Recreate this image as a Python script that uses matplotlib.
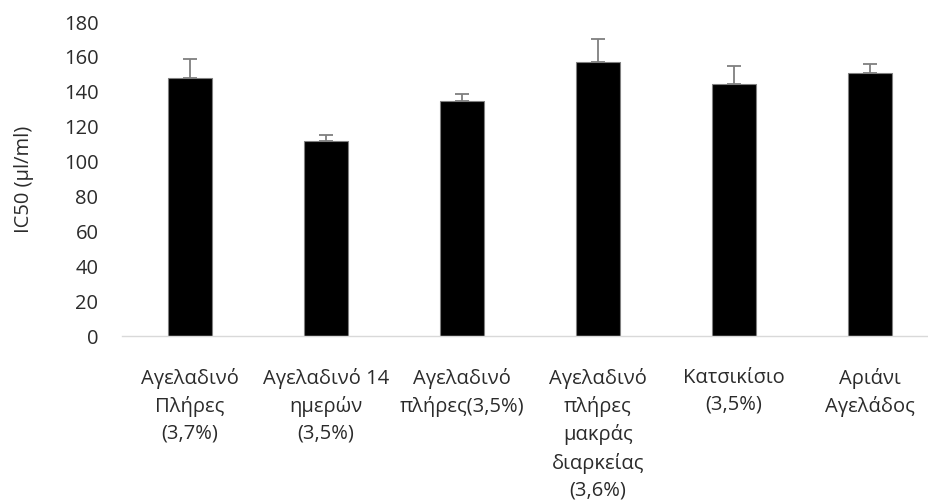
import numpy as np
import matplotlib.pyplot as plt

plt.rcParams['font.family'] = ['Open Sans', 'DejaVu Sans']

# IC50 ανά δείγμα γάλακτος (μέση τιμή και τυπική απόκλιση)
labels = [
    "Αγελαδινό\nΠλήρες\n(3,7%)",
    "Αγελαδινό 14\nημερών\n(3,5%)",
    "Αγελαδινό\nπλήρες(3,5%)",
    "Αγελαδινό\nπλήρες\nμακράς\nδιαρκείας\n(3,6%)",
    "Κατσικίσιο\n(3,5%)",
    "Αριάνι\nΑγελάδος",
]
ic50 = [148, 112, 135, 157, 144.5, 151]
sd = [11, 3, 4, 13, 10, 5]

text_col = '#2b2b2b'

fig = plt.figure(figsize=(9.29, 5.04), dpi=100)
ax = fig.add_axes([122 / 929, 168 / 504, 816 / 929, 314 / 504])

x = np.arange(len(labels))
ax.bar(x, ic50, width=0.32, color='black', edgecolor='#808080', linewidth=0.8,
       zorder=2)
# μόνο θετική απόκλιση, όπως στο αρχικό γράφημα
ax.errorbar(x, ic50, yerr=[np.zeros(len(sd)), sd], fmt='none',
            ecolor='#7f7f7f', elinewidth=1.3, capsize=5, capthick=1.3, zorder=3)

ax.set_xlim(-0.5, len(labels) - 0.5)
ax.set_ylim(0, 180)
ax.set_yticks(np.arange(0, 181, 20))
ax.set_xticks(x)
ax.set_xticklabels(labels, linespacing=1.45, va='top')

ax.tick_params(axis='both', length=0, colors=text_col, labelsize=14.5)
ax.tick_params(axis='y', pad=17)
ax.tick_params(axis='x', pad=23)

for s in ['top', 'right', 'left']:
    ax.spines[s].set_visible(False)
ax.spines['bottom'].set_color('#d9d9d9')
ax.spines['bottom'].set_linewidth(1.0)

ax.set_ylabel("IC50 (μl/ml)", color=text_col, fontsize=14.5)
ax.yaxis.set_label_coords(-0.108, 0.5)

fig.savefig('out.png', dpi=100)
